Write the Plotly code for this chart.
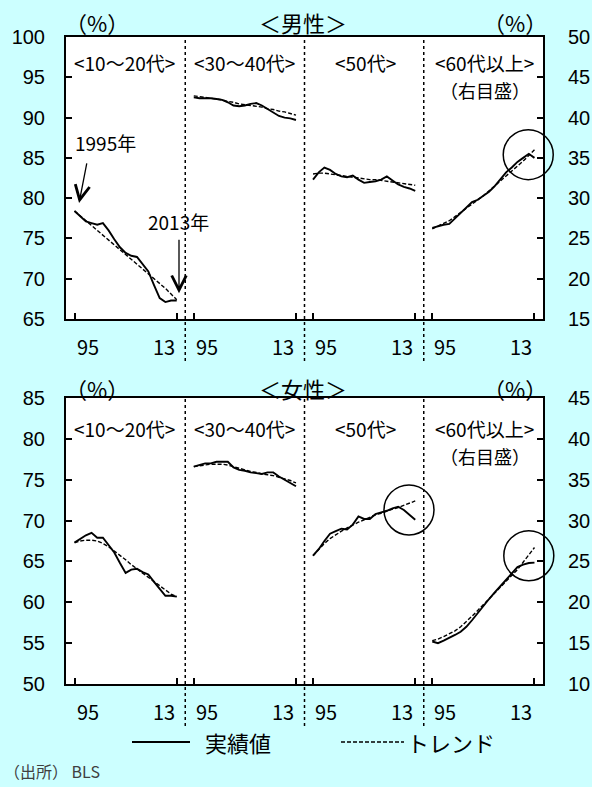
import plotly.graph_objects as go

# ---------------- data ----------------
years = list(range(1995, 2014))
groups = ["<10～20代>", "<30～40代>", "<50代>", "<60代以上>"]
tick_labels = ["95", "13"]

male_actual = [
    [78.4, 77.7, 77.1, 76.9, 76.7, 76.9, 76.0, 74.9, 73.9, 73.2, 72.85, 72.7, 71.8, 70.9, 69.2, 67.6, 67.1, 67.3, 67.3],
    [92.5, 92.4, 92.4, 92.4, 92.3, 92.2, 91.9, 91.5, 91.4, 91.5, 91.7, 91.8, 91.5, 91.1, 90.6, 90.2, 90.0, 89.9, 89.7],
    [82.3, 83.2, 83.8, 83.5, 83.0, 82.7, 82.6, 82.8, 82.3, 81.9, 82.0, 82.1, 82.3, 82.7, 82.2, 81.7, 81.4, 81.2, 80.9],
    [26.3, 26.5, 26.7, 26.8, 27.5, 28.2, 28.9, 29.5, 29.8, 30.3, 30.8, 31.5, 32.3, 33.2, 33.8, 34.5, 35.0, 35.5, 35.0],
]
male_trend = [
    [78.4, 77.8, 77.2, 76.6, 76.1, 75.5, 74.9, 74.3, 73.7, 73.1, 72.5, 71.9, 71.3, 70.7, 70.1, 69.5, 68.8, 68.1, 67.4],
    [92.7, 92.6, 92.5, 92.4, 92.3, 92.2, 92.0, 91.9, 91.7, 91.6, 91.5, 91.4, 91.3, 91.1, 91.0, 90.8, 90.7, 90.5, 90.3],
    [83.0, 83.1, 83.1, 83.0, 82.9, 82.8, 82.7, 82.6, 82.5, 82.4, 82.3, 82.3, 82.2, 82.1, 82.0, 81.9, 81.8, 81.7, 81.6],
    [26.2, 26.5, 26.8, 27.2, 27.7, 28.2, 28.7, 29.2, 29.7, 30.3, 30.9, 31.5, 32.1, 32.7, 33.4, 34.0, 34.6, 35.3, 36.0],
]
female_actual = [
    [67.3, 67.8, 68.2, 68.5, 67.9, 67.9, 67.0, 66.1, 64.8, 63.6, 64.0, 64.1, 63.7, 63.4, 62.5, 61.6, 60.8, 60.8, 60.7],
    [76.6, 76.8, 77.0, 77.0, 77.2, 77.2, 77.2, 76.5, 76.2, 76.1, 75.9, 75.8, 75.7, 75.9, 75.9, 75.4, 75.0, 74.6, 74.2],
    [65.7, 66.5, 67.5, 68.4, 68.7, 69.0, 68.9, 69.5, 70.5, 70.2, 70.2, 70.8, 71.0, 71.2, 71.5, 71.7, 71.3, 70.7, 70.1],
    [15.2, 15.0, 15.3, 15.6, 16.0, 16.4, 17.0, 17.8, 18.7, 19.5, 20.4, 21.2, 22.0, 22.8, 23.6, 24.3, 24.6, 24.8, 24.85],
]
female_trend = [
    [67.3, 67.5, 67.6, 67.6, 67.5, 67.2, 66.8, 66.3, 65.8, 65.2, 64.6, 64.1, 63.6, 63.1, 62.5, 62.0, 61.5, 61.0, 60.7],
    [76.6, 76.7, 76.8, 76.9, 76.9, 76.9, 76.8, 76.6, 76.4, 76.2, 76.0, 75.9, 75.7, 75.6, 75.5, 75.3, 75.1, 74.9, 74.6],
    [65.7, 66.5, 67.2, 67.8, 68.3, 68.7, 69.1, 69.5, 69.8, 70.1, 70.4, 70.7, 70.9, 71.2, 71.4, 71.6, 71.9, 72.1, 72.4],
    [15.3, 15.5, 15.8, 16.1, 16.5, 17.0, 17.6, 18.3, 19.0, 19.7, 20.4, 21.1, 21.9, 22.6, 23.3, 24.0, 24.9, 25.8, 26.7],
]
male_left_range, male_right_range = [65, 100], [15, 50]
female_left_range, female_right_range = [50, 85], [10, 45]
# circled points: (group, year, value)
male_circles = [(3, 2011.9, 35.4)]
female_circles = [(2, 2011.9, 71.3), (3, 2012.0, 25.7)]

# ---------------- layout helpers ----------------
W, H = 592, 787
BG = "#CCFFFF"
SPAN, PAD = 21, 1.5
NG = len(groups)
XMAX = SPAN * NG
JP = "Noto Sans CJK JP"
NUM = "Liberation Sans"

xdom = [66 / W, 543 / W]
top_dom = [1 - 319 / H, 1 - 37 / H]
bot_dom = [1 - 684 / H, 1 - 398 / H]


def xpos(k, yrs):
    return [k * SPAN + (y - years[0] + PAD) for y in yrs]


def px(x):
    return x / W


def py(y):
    return 1 - y / H


def to_paper_x(xd):
    return xdom[0] + xd / XMAX * (xdom[1] - xdom[0])


def to_paper_y(v, rng, dom):
    return dom[0] + (v - rng[0]) / (rng[1] - rng[0]) * (dom[1] - dom[0])


def text(x, y, s, size, xanchor="center", family=JP, color="black"):
    return dict(x=px(x), y=py(y), xref="paper", yref="paper", text=s, showarrow=False,
                xanchor=xanchor, yanchor="middle", font=dict(family=family, size=size, color=color))


fig = go.Figure()

panels = [
    ("x", "y", "y2", male_actual, male_trend),
    ("x2", "y3", "y4", female_actual, female_trend),
]
for xa, yl, yr, act, trd in panels:
    for k in range(NG):
        ya = yr if k == NG - 1 else yl
        fig.add_trace(go.Scatter(x=xpos(k, years), y=trd[k], mode="lines", xaxis=xa, yaxis=ya,
                                 line=dict(color="black", width=1.4, dash="4px,2px"), showlegend=False))
        fig.add_trace(go.Scatter(x=xpos(k, years), y=act[k], mode="lines", xaxis=xa, yaxis=ya,
                                 line=dict(color="black", width=1.9), showlegend=False))

tickvals = []
for k in range(NG):
    tickvals += xpos(k, [years[0], years[-1]])

xcommon = dict(range=[0, XMAX], domain=xdom, tickvals=tickvals, showticklabels=False,
               showline=True, linecolor="black", linewidth=2, mirror=True,
               ticks="inside", ticklen=6, tickwidth=1.5, tickcolor="black",
               showgrid=False, zeroline=False, automargin=False)
ycommon = dict(dtick=5, showline=True, linecolor="black", linewidth=2,
               ticks="inside", ticklen=6, tickwidth=1.5, tickcolor="black",
               showgrid=False, zeroline=False, automargin=False,
               tickfont=dict(family=NUM, size=20, color="black"))
LEFT_STANDOFF, RIGHT_STANDOFF = 15, 19

fig.update_layout(
    width=W, height=H, autosize=False,
    margin=dict(l=0, r=0, t=0, b=0, pad=0),
    paper_bgcolor=BG, plot_bgcolor="white",
    showlegend=False,
    xaxis=dict(anchor="y", **xcommon),
    xaxis2=dict(anchor="y3", **xcommon),
    yaxis=dict(domain=top_dom, range=male_left_range, anchor="x", tick0=male_left_range[0],
               ticklabelstandoff=LEFT_STANDOFF, **ycommon),
    yaxis2=dict(range=male_right_range, overlaying="y", side="right", anchor="x",
                tick0=male_right_range[0], ticklabelstandoff=RIGHT_STANDOFF, **ycommon),
    yaxis3=dict(domain=bot_dom, range=female_left_range, anchor="x2", tick0=female_left_range[0],
                ticklabelstandoff=LEFT_STANDOFF, **ycommon),
    yaxis4=dict(range=female_right_range, overlaying="y3", side="right", anchor="x2",
                tick0=female_right_range[0], ticklabelstandoff=RIGHT_STANDOFF, **ycommon),
)

shapes = []
annotations = []

# x tick labels (95 left-aligned on its tick, 13 right-aligned on its tick) and dividers
for dom in (top_dom, bot_dom):
    base = (1 - dom[0]) * H
    ext = 42 / H
    for k in range(NG):
        x95, x13 = xpos(k, [years[0], years[-1]])
        annotations.append(dict(x=to_paper_x(x95), y=py(base + 27), xref="paper", yref="paper",
                                text=tick_labels[0], showarrow=False, xanchor="left", yanchor="middle",
                                font=dict(family=JP, size=20, color="black")))
        annotations.append(dict(x=to_paper_x(x13), y=py(base + 27), xref="paper", yref="paper",
                                text=tick_labels[1], showarrow=False, xanchor="right", yanchor="middle",
                                font=dict(family=JP, size=20, color="black")))
    for k in range(1, NG):
        xp = to_paper_x(k * SPAN)
        shapes.append(dict(type="line", xref="paper", yref="paper", x0=xp, x1=xp,
                           y0=dom[0] - ext, y1=dom[1], line=dict(color="black", width=1.5, dash="dot")))

# circles
for circles, lrng, rrng, dom in ((male_circles, male_left_range, male_right_range, top_dom),
                                 (female_circles, female_left_range, female_right_range, bot_dom)):
    for g, yr_, v in circles:
        rng = rrng if g == NG - 1 else lrng
        xa = to_paper_x(xpos(g, [yr_])[0])
        ya = to_paper_y(v, rng, dom)
        shapes.append(dict(type="circle", xref="paper", yref="paper", xsizemode="pixel", ysizemode="pixel",
                           xanchor=xa, yanchor=ya, x0=-25, x1=25, y0=-25, y1=25,
                           line=dict(color="black", width=1.5)))

# headers
for ytxt, title in ((22, "＜男性＞"), (388, "＜女性＞")):
    annotations.append(text(303, ytxt, title, 22))
    annotations.append(text(97, ytxt, "（%）", 22))
    annotations.append(text(515, ytxt, "（%）", 22))

# group labels
label_x = [124, 244, 365, 484]
for ylab, ysub in ((63, 90), (428, 456)):
    for k in range(NG):
        annotations.append(text(label_x[k], ylab, groups[k], 19))
    annotations.append(text(485, ysub, "（右目盛）", 18))

# arrows with year notes
annotations.append(text(105, 143, "1995年", 19))
annotations.append(dict(x=2.3, y=79.4, xref="x", yref="y", text="", showarrow=True, ax=8, ay=-41,
                        arrowhead=5, arrowsize=2.2, arrowwidth=1.3, arrowcolor="black"))
annotations.append(text(178, 221, "2013年", 19))
annotations.append(dict(x=19.9, y=68.2, xref="x", yref="y", text="", showarrow=True, ax=0, ay=-55,
                        arrowhead=5, arrowsize=2.2, arrowwidth=1.3, arrowcolor="black"))

# legend
shapes.append(dict(type="line", xref="paper", yref="paper", x0=px(132), x1=px(190), y0=py(742), y1=py(742),
                   line=dict(color="black", width=1.9)))
shapes.append(dict(type="line", xref="paper", yref="paper", x0=px(341), x1=px(404), y0=py(742), y1=py(742),
                   line=dict(color="black", width=1.4, dash="4px,2px")))
annotations.append(text(203, 742, "実績値", 22, xanchor="left"))
annotations.append(text(405, 742, "トレンド", 22, xanchor="left"))

# source
annotations.append(text(2, 771, "（出所） BLS", 16, xanchor="left", color="#404040"))

fig.update_layout(shapes=shapes, annotations=annotations)
fig.write_html("out.html", config={"displayModeBar": False},
               post_script="document.body.style.margin='0';document.body.style.padding='0';"
                           "document.body.style.overflow='hidden';")
